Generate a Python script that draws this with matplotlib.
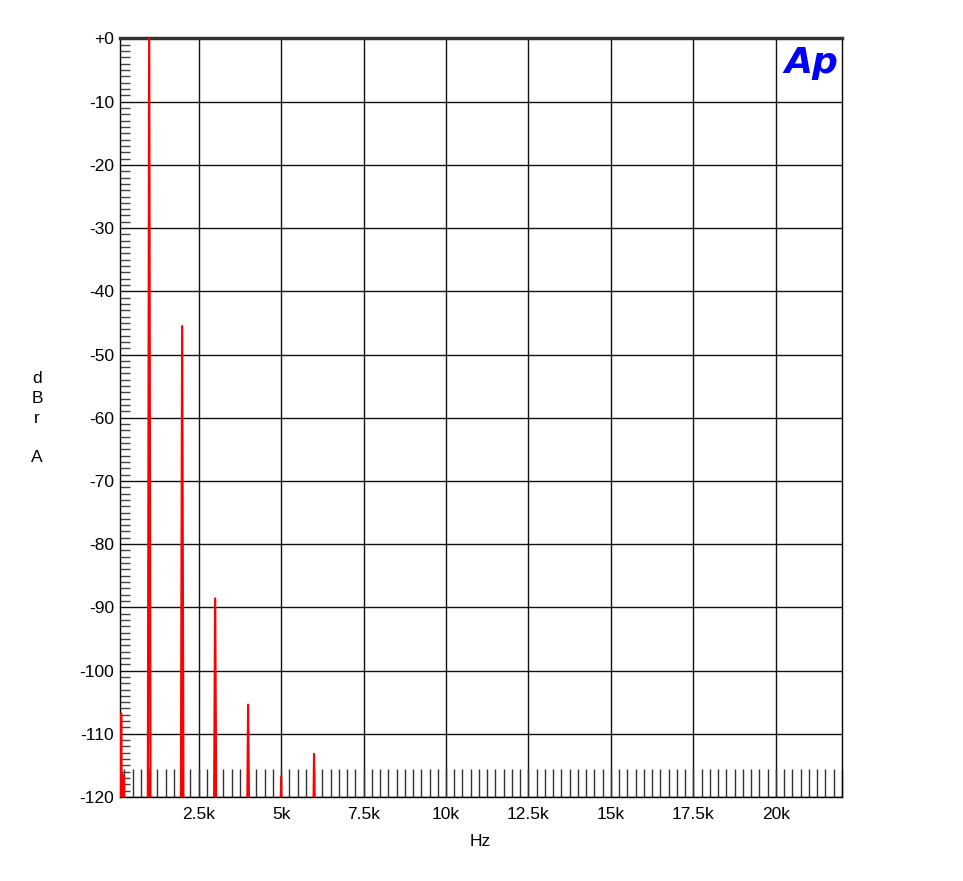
import matplotlib
matplotlib.use("Agg")
import matplotlib.pyplot as plt
from matplotlib.ticker import MultipleLocator

# FFT spectrum (floor sits below -120 and is clipped)
freq_hz = [100, 125, 150, 175, 195, 215, 235, 255, 275,
           955, 1000, 1045,
           1955, 2000, 2045,
           2955, 3000, 3045,
           3955, 4000, 4045,
           4955, 5000, 5045,
           5955, 6000, 6045]
level_dbr = [-125, -125, -106.8, -125, -116.5, -125, -116.8, -125, -135,
             -135, 0, -135,
             -135, -45.5, -135,
             -135, -88.6, -135,
             -135, -105.4, -135,
             -135, -116.8, -135,
             -135, -113.2, -135]

xticks = [2500, 5000, 7500, 10000, 12500, 15000, 17500, 20000]
xticklabels = ["2.5k", "5k", "7.5k", "10k", "12.5k", "15k", "17.5k", "20k"]
yticks = list(range(0, -130, -10))
yticklabels = ["+0"] + [str(v) for v in yticks[1:]]

plt.rcParams["font.family"] = ["Liberation Sans", "DejaVu Sans"]

fig = plt.figure(figsize=(9.63, 8.81), dpi=100)
ax = fig.add_axes([0.1241, 0.0954, 0.7500, 0.8609])

ax.plot(freq_hz, level_dbr, color="red", lw=1.6, zorder=3)

ax.set_xlim(100, 22000)
ax.set_ylim(-120, 0)

ax.set_xticks(xticks)
ax.set_xticklabels(xticklabels, fontsize=12.5)
ax.xaxis.set_minor_locator(MultipleLocator(250))
ax.set_yticks(yticks)
ax.set_yticklabels(yticklabels, fontsize=12.5)
ax.yaxis.set_minor_locator(MultipleLocator(1))

ax.tick_params(axis="x", which="both", direction="in", length=20, width=1,
               color="#333333", pad=7)
ax.tick_params(axis="y", which="major", direction="in", length=0, pad=4)
ax.tick_params(axis="y", which="minor", direction="in", length=7, width=1,
               color="#444444")

ax.grid(True, which="major", color="#111111", lw=1)

for side in ["left", "right", "bottom"]:
    ax.spines[side].set_color("black")
    ax.spines[side].set_linewidth(1)
ax.spines["top"].set_color("#333333")
ax.spines["top"].set_linewidth(2.5)

fig.text(37 / 963, 1 - 418 / 881, "d\nB\nr\n\nA", ha="center", va="center",
         fontsize=12.5, linespacing=1.38)
ax.set_xlabel("Hz", fontsize=12.5, labelpad=9)

ax.text(0.9575, 0.968, "Ap", transform=ax.transAxes, ha="center", va="center",
        fontsize=26, fontweight="bold", fontstyle="italic", color="#0000ff",
        family="DejaVu Sans", zorder=5)

fig.savefig("out.png", dpi=100)
